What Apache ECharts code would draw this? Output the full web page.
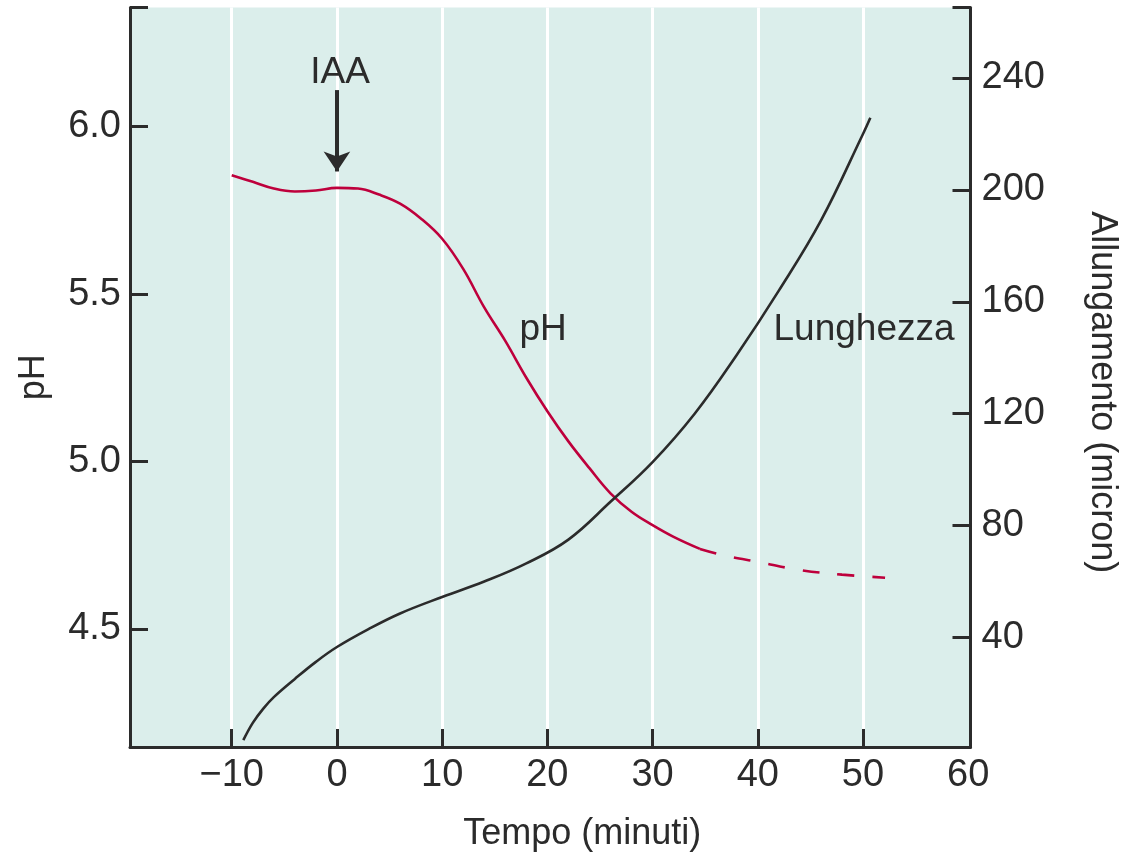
<!DOCTYPE html>
<html>
<head>
<meta charset="utf-8">
<script src="https://cdn.jsdelivr.net/npm/echarts@6/dist/echarts.min.js"></script>
<style>
html,body{margin:0;padding:0;background:#fff;}
#chart{width:1124px;height:854px;}
</style>
</head>
<body>
<div id="chart"></div>
<script>
// ---- data ----
const phTime   = [-10, -8, -6, -4, -2, 0, 2, 4, 6, 8, 10, 12, 14, 16, 18, 20, 22, 24, 26, 28, 30, 32, 34.5];
const phValues = [5.855, 5.835, 5.815, 5.806, 5.809, 5.817, 5.815, 5.797, 5.77, 5.725, 5.665, 5.575, 5.46, 5.36, 5.25, 5.15, 5.06, 4.98, 4.905, 4.85, 4.81, 4.775, 4.739];
const phDashTime   = [34.5, 37, 40, 44, 48, 52.1];
const phDashValues = [4.739, 4.718, 4.70, 4.676, 4.662, 4.653];
const lenTime   = [-8.9, -8, -7, -6, -4, -2, 0, 3, 6, 10, 14, 18, 22, 26, 30, 34, 38, 42, 46, 50, 50.7];
const lenValues = [3.3, 9.5, 14.6, 18.7, 25.2, 31.3, 36.6, 43, 48.6, 54.5, 60, 66.5, 75, 88.5, 102.7, 120, 141, 164, 189, 220, 225.8];
const xTickLabels   = [-10, 0, 10, 20, 30, 40, 50, 60];
const xTickMarks    = [-10, 0, 10, 20, 30, 40, 50];
const phTickLabels  = [4.5, 5.0, 5.5, 6.0];
const lenTickLabels = [40, 80, 120, 160, 200, 240];
const xRange   = [-19.67, 60.22];
const phRange  = [4.1474, 6.3556];
const lenRange = [0.86, 265.2];

const FONT = "'Liberation Sans', Arial, sans-serif";
const INK = '#2b2b2b';
const RED = '#be003c';

const chart = echarts.init(document.getElementById('chart'), null, {renderer: 'canvas'});
const zip = (a, b) => a.map((v, i) => [v, b[i]]);

chart.setOption({
  animation: false,
  grid: {left: 130, right: 153.5, top: 7.5, bottom: 107, outerBoundsMode: 'none', containLabel: false,
    show: true, backgroundColor: '#dbeeeb', borderWidth: 0},
  xAxis: {
    type: 'value', min: xRange[0], max: xRange[1],
    name: 'Tempo (minuti)', nameLocation: 'middle', nameGap: 69,
    nameTextStyle: {fontFamily: FONT, fontSize: 36, color: INK, padding: [0, 0, 0, 64]},
    axisLine: {show: true, onZero: false, lineStyle: {color: INK, width: 3}},
    axisTick: {show: true, inside: true, length: 18, customValues: xTickMarks, lineStyle: {color: INK, width: 3}},
    axisLabel: {customValues: xTickLabels, fontFamily: FONT, fontSize: 38, color: INK, margin: 10,
      formatter: v => v < 0 ? '\u2212' + Math.abs(v) : String(v)},
    splitLine: {show: true, lineStyle: {color: '#ffffff', width: 3}}
  },
  yAxis: [{
    type: 'value', position: 'left', min: phRange[0], max: phRange[1],
    name: 'pH', nameLocation: 'middle', nameGap: 78,
    nameTextStyle: {fontFamily: FONT, fontSize: 36, color: INK},
    axisLine: {show: true, onZero: false, lineStyle: {color: INK, width: 3}},
    axisTick: {show: true, inside: true, length: 18, customValues: phTickLabels.concat([phRange[1]]), lineStyle: {color: INK, width: 3}},
    axisLabel: {customValues: phTickLabels, fontFamily: FONT, fontSize: 38, color: INK, margin: 9,
      formatter: v => v.toFixed(1)},
    splitLine: {show: false}
  }, {
    type: 'value', position: 'right', min: lenRange[0], max: lenRange[1],
    name: 'Allungamento (micron)', nameLocation: 'middle', nameGap: 113, nameRotate: -90,
    nameTextStyle: {fontFamily: FONT, fontSize: 36, color: INK, padding: [0, 0, 0, 30]},
    axisLine: {show: true, onZero: false, lineStyle: {color: INK, width: 3}},
    axisTick: {show: true, inside: true, length: 18, customValues: lenTickLabels.concat([lenRange[1]]), lineStyle: {color: INK, width: 3}},
    axisLabel: {customValues: lenTickLabels, fontFamily: FONT, fontSize: 38, color: INK, margin: 11},
    splitLine: {show: false}
  }],
  series: [{
    name: 'pH', type: 'line', yAxisIndex: 0, data: zip(phTime, phValues),
    smooth: 0.4, showSymbol: false, silent: true,
    lineStyle: {color: RED, width: 2.6},
    markLine: {
      silent: true, symbol: ['none', 'arrow'], symbolSize: [20, 20],
      label: {show: false},
      lineStyle: {color: INK, width: 4, type: 'solid'},
      data: [[{coord: [0, 6.109]}, {coord: [0, 5.866]}]]
    },
    markPoint: {
      silent: true, symbol: 'rect', symbolSize: 1,
      itemStyle: {color: 'rgba(0,0,0,0)'},
      label: {show: true, position: 'inside', fontFamily: FONT, fontSize: 37, color: INK},
      data: [
        {coord: [0.29, 6.161], label: {formatter: 'IAA'}},
        {coord: [19.6, 5.394], label: {formatter: 'pH'}},
        {coord: [50.1, 5.394], label: {formatter: 'Lunghezza'}}
      ]
    }
  }, {
    name: 'pH (tratteggiato)', type: 'line', yAxisIndex: 0, data: zip(phDashTime, phDashValues),
    smooth: 0.4, showSymbol: false, silent: true,
    lineStyle: {color: RED, width: 2.6, type: [17, 18]}
  }, {
    name: 'Lunghezza', type: 'line', yAxisIndex: 1, data: zip(lenTime, lenValues),
    smooth: 0.4, showSymbol: false, silent: true,
    lineStyle: {color: INK, width: 2.6}
  }]
});
</script>
</body>
</html>
